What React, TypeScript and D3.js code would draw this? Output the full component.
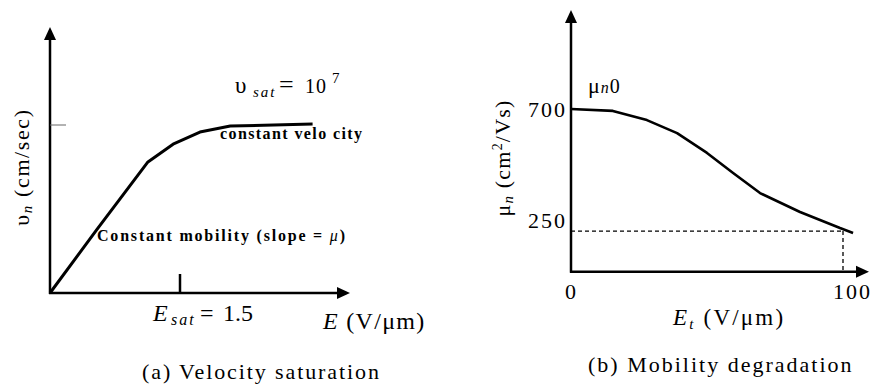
import React from "react";
import * as d3 from "d3";

// (a) velocity saturation: E in V/um, v in units of 1e7 cm/s
const velE = [0, 0.54, 1.13, 1.42, 1.73, 2.08, 3.03];
const velV = [0, 0.377, 0.78, 0.886, 0.958, 0.994, 1.006];
const eSat = 1.5;
const vSat = 1.0;

// (b) mobility degradation: Et in V/um, mu in cm2/Vs
const mobE = [0, 15.4, 27.9, 39, 50, 59.6, 69.5, 84.2, 98.9, 103.7];
const mobMu = [700, 693, 659, 611, 538, 464, 390, 320, 261, 243];
const muTicks = [700, 250];
const etTicks = [0, 100];

const FONT = "Liberation Serif, DejaVu Serif, serif";

const Arrow = ({ x, y, dir }: { x: number; y: number; dir: "up" | "right" }) => {
  const p =
    dir === "up"
      ? `${x},${y} ${x - 6},${y + 13} ${x + 6},${y + 13}`
      : `${x},${y} ${x - 13},${y - 6} ${x - 13},${y + 6}`;
  return <polygon points={p} fill="#000" />;
};

const App: React.FC = () => {
  // left panel scales
  const xa = d3.scaleLinear().domain([0, eSat]).range([50, 180]);
  const ya = d3.scaleLinear().domain([0, vSat]).range([293, 125]);
  const lineA = d3
    .line<number>()
    .x((_, i) => xa(velE[i]))
    .y((d) => ya(d));

  // right panel scales
  const xb = d3.scaleLinear().domain([0, 100]).range([571, 843]);
  const yb = d3.scaleLinear().domain([100, 700]).range([271.7, 109]);
  const lineB = d3
    .line<number>()
    .x((_, i) => xb(mobE[i]))
    .y((d) => yb(d));

  const x0a = xa(0), y0a = ya(0);
  const x0b = xb(0), y0b = yb(100);

  return (
    <svg
      width={875}
      height={385}
      style={{ position: "absolute", left: 0, top: 0, background: "#fff", fontFamily: FONT }}
    >
      {/* ---------- (a) ---------- */}
      <line x1={x0a} y1={y0a + 1} x2={x0a} y2={36} stroke="#000" strokeWidth={2.5} />
      <Arrow x={x0a} y={27} dir="up" />
      <line x1={x0a - 1} y1={y0a} x2={341} y2={y0a} stroke="#000" strokeWidth={2.5} />
      <Arrow x={350} y={y0a} dir="right" />
      <line x1={xa(eSat)} y1={y0a} x2={xa(eSat)} y2={274} stroke="#000" strokeWidth={2.5} />
      <line x1={x0a} y1={ya(vSat)} x2={66} y2={ya(vSat)} stroke="#666" strokeWidth={1} />
      <path d={lineA(velV) || ""} fill="none" stroke="#000" strokeWidth={3} strokeLinejoin="round" />

      <text y={93} fontSize={20}>
        <tspan x={235} fontSize={23}>υ</tspan>
        <tspan x={253} dy={4} fontStyle="italic" fontSize={15} letterSpacing={2}>sat</tspan>
        <tspan x={279} dy={-4} fontSize={26}>=</tspan>
        <tspan x={305} letterSpacing={1}>10</tspan>
        <tspan x={332} dy={-10} fontSize={15}>7</tspan>
      </text>
      <text x={220} y={139} fontSize={16} fontWeight="bold" letterSpacing={1.4}>
        constant velo city
      </text>
      <text x={97} y={241} fontSize={16} fontWeight="bold" letterSpacing={1.8}>
        Constant mobility (slope = <tspan fontStyle="italic" fontWeight="normal">μ</tspan>)
      </text>
      <text y={321} fontSize={24}>
        <tspan x={153} fontStyle="italic">E</tspan>
        <tspan x={171} dy={4} fontStyle="italic" fontSize={16} letterSpacing={2}>sat</tspan>
        <tspan x={200} dy={-4}>=</tspan>
        <tspan x={223}>1.5</tspan>
      </text>
      <text x={323} y={329} fontSize={24} letterSpacing={1.3}>
        <tspan fontStyle="italic">E</tspan> (V/μm)
      </text>
      <text transform="translate(29,167) rotate(-90)" textAnchor="middle" fontSize={22} letterSpacing={1.6}>
        υ<tspan fontStyle="italic" fontSize={15} dy={3}>n</tspan>
        <tspan dy={-3}> (cm/sec)</tspan>
      </text>
      <text x={142} y={379} fontSize={22} letterSpacing={1.9}>
        (a) Velocity saturation
      </text>

      {/* ---------- (b) ---------- */}
      <line x1={x0b} y1={y0b + 1} x2={x0b} y2={19} stroke="#000" strokeWidth={2.5} />
      <Arrow x={x0b} y={10} dir="up" />
      <line x1={x0b - 1} y1={y0b} x2={860} y2={y0b} stroke="#000" strokeWidth={2.5} />
      <Arrow x={869} y={y0b} dir="right" />
      <line x1={x0b} y1={yb(250)} x2={xb(100)} y2={yb(250)} stroke="#000" strokeWidth={1.3} strokeDasharray="4,3" />
      <line x1={xb(100)} y1={yb(250)} x2={xb(100)} y2={y0b} stroke="#000" strokeWidth={1.3} strokeDasharray="4,3" />
      <path d={lineB(mobMu) || ""} fill="none" stroke="#000" strokeWidth={2.6} strokeLinejoin="round" />

      {muTicks.map((t) => (
        <text key={t} x={x0b - 4} y={yb(t) + (t === 700 ? 8 : -3)} textAnchor="end" fontSize={22} letterSpacing={2}>
          {t}
        </text>
      ))}
      {etTicks.map((t) => (
        <text key={t} x={xb(t) + (t === 0 ? -6 : -10)} y={299} fontSize={22} letterSpacing={2}>
          {t}
        </text>
      ))}
      <text x={588} y={93} fontSize={22} letterSpacing={1}>
        μ<tspan fontStyle="italic" fontSize={16}>n</tspan>
        <tspan fontSize={20}>0</tspan>
      </text>
      <text transform="translate(510,158) rotate(-90)" textAnchor="middle" fontSize={22} letterSpacing={1.2}>
        μ<tspan fontStyle="italic" fontSize={15} dy={3}>n</tspan>
        <tspan dy={-3}> (cm</tspan>
        <tspan fontSize={14} dy={-8}>2</tspan>
        <tspan dy={8}>/Vs)</tspan>
      </text>
      <text x={673} y={325} fontSize={23} letterSpacing={2.2}>
        <tspan fontStyle="italic">E</tspan>
        <tspan fontStyle="italic" fontSize={15} dy={4}>t</tspan>
        <tspan dy={-4}> (V/μm)</tspan>
      </text>
      <text x={588} y={372} fontSize={22} letterSpacing={2}>
        (b) Mobility degradation
      </text>
    </svg>
  );
};

export default App;
